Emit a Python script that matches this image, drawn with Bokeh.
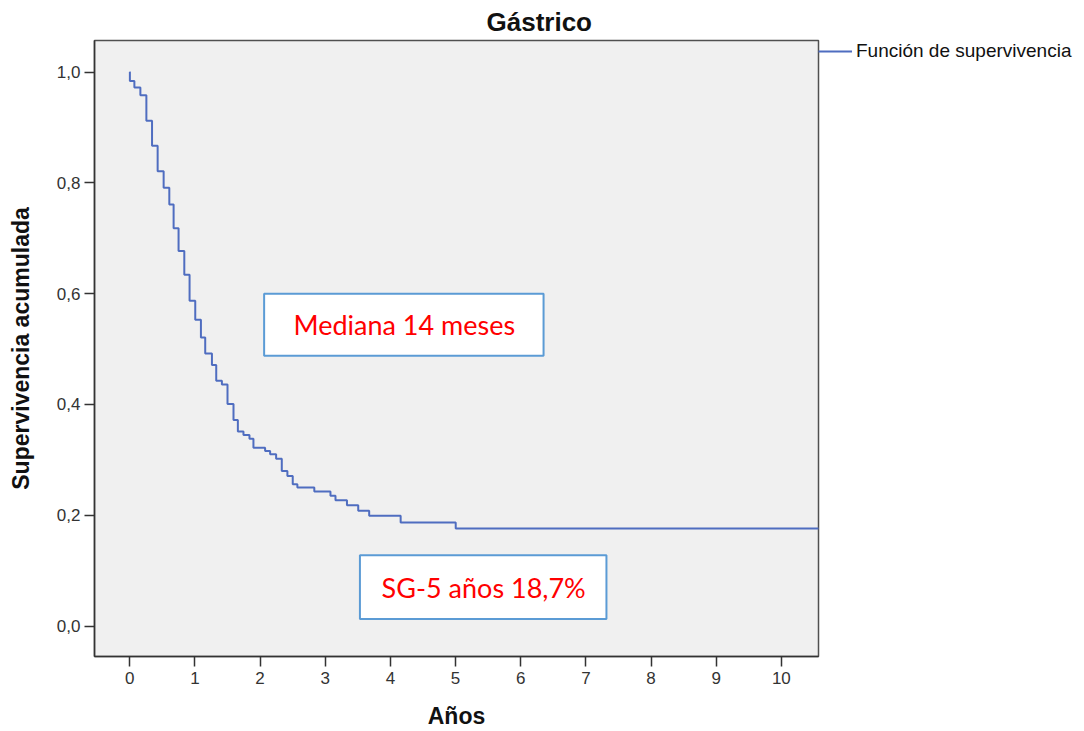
from bokeh.plotting import figure
from bokeh.models import (Range1d, FixedTicker, CustomJSTickFormatter, BoxAnnotation,
                          Label, Legend, LegendItem)
from bokeh.embed import file_html
from bokeh.resources import INLINE

# Kaplan-Meier estimate (years, cumulative survival after each drop)
times = [0.0, 0.003, 0.072, 0.164, 0.256, 0.343, 0.429, 0.521, 0.608, 0.674, 0.750,
         0.838, 0.919, 1.006, 1.093, 1.159, 1.262, 1.328, 1.415, 1.501, 1.593,
         1.660, 1.746, 1.838, 1.899, 2.078, 2.155, 2.247, 2.334, 2.420, 2.502,
         2.573, 2.833, 3.081, 3.158, 3.334, 3.507, 3.675, 4.158, 5.003, 10.6]
surv = [1.0, 0.984, 0.972, 0.958, 0.912, 0.867, 0.821, 0.791, 0.761, 0.718, 0.677,
        0.634, 0.587, 0.553, 0.521, 0.492, 0.471, 0.443, 0.436, 0.401, 0.372,
        0.351, 0.345, 0.338, 0.322, 0.316, 0.310, 0.302, 0.280, 0.271, 0.256,
        0.250, 0.243, 0.235, 0.227, 0.218, 0.208, 0.199, 0.187, 0.176, 0.176]

x_ticks = [0, 1, 2, 3, 4, 5, 6, 7, 8, 9, 10]
y_ticks = [0.0, 0.2, 0.4, 0.6, 0.8, 1.0]

title_text = "Gástrico"
x_label = "Años"
y_label = "Supervivencia acumulada"
legend_label = "Función de supervivencia"
note_median = "Mediana 14 meses"
note_sg5 = "SG-5 años 18,7%"

FONT = "Liberation Sans"

p = figure(frame_width=724, frame_height=616,
           min_border_left=94, min_border_right=256, min_border_top=37, min_border_bottom=68,
           x_range=Range1d(-0.54, 10.57), y_range=Range1d(-0.055, 1.057),
           output_backend="svg", toolbar_location=None, title=title_text)

p.background_fill_color = "#f0f0f0"
p.border_fill_color = "white"
p.outline_line_color = "#505050"
p.outline_line_width = 1.5
p.xgrid.visible = False
p.ygrid.visible = False

p.title.text_font = FONT
p.title.text_font_size = "26px"
p.title.text_font_style = "bold"
p.title.text_color = "#111111"
p.title.align = "left"
p.title.offset = 392
p.title.standoff = 8

for ax in (p.xaxis[0], p.yaxis[0]):
    ax.axis_line_color = "#333333"
    ax.axis_line_width = 1.5
    ax.major_tick_line_color = "#333333"
    ax.major_tick_line_width = 1.5
    ax.major_tick_in = 0
    ax.major_tick_out = 10
    ax.minor_tick_line_color = None
    ax.major_label_text_font = FONT
    ax.major_label_text_font_size = "17px"
    ax.major_label_text_color = "#333333"
    ax.axis_label_text_font = FONT
    ax.axis_label_text_font_size = "23px"
    ax.axis_label_text_font_style = "bold"
    ax.axis_label_text_color = "#111111"

p.xaxis.ticker = FixedTicker(ticks=x_ticks)
p.yaxis.ticker = FixedTicker(ticks=y_ticks)
p.yaxis.formatter = CustomJSTickFormatter(code="return tick.toFixed(1).replace('.', ',');")
p.xaxis.axis_label = x_label
p.yaxis.axis_label = y_label
p.xaxis.major_label_standoff = 5
p.yaxis.major_label_standoff = 4
p.xaxis.axis_label_standoff = 16
p.yaxis.axis_label_standoff = 20

r = p.step(x=times, y=surv, mode="after", line_color="#4f6dc0", line_width=2)

# annotation boxes
for left, right, bottom, top in [(2.063, 6.351, 0.488, 0.600), (3.533, 7.316, 0.0126, 0.128)]:
    p.add_layout(BoxAnnotation(left=left, right=right, bottom=bottom, top=top,
                               fill_color="white", fill_alpha=1.0,
                               line_color="#5b9bd5", line_alpha=1.0, line_width=2,
                               level="overlay"))
p.add_layout(Label(x=4.215, y=0.544, text=note_median, text_align="center",
                   text_baseline="middle", text_color="#ff0000",
                   text_font="Lato", text_font_size="27px", level="overlay"))
p.add_layout(Label(x=5.432, y=0.070, text=note_sg5, text_align="center",
                   text_baseline="middle", text_color="#ff0000",
                   text_font="Lato", text_font_size="27px", level="overlay"))

legend = Legend(items=[LegendItem(label=legend_label, renderers=[r])],
                location="top_left", border_line_color=None,
                background_fill_alpha=0, margin=0, padding=0, spacing=0,
                glyph_width=34, glyph_height=20, label_standoff=4,
                label_text_font=FONT, label_text_font_size="19px",
                label_text_color="#111111")
p.add_layout(legend, "right")

open("out.html", "w").write(file_html(p, INLINE))
